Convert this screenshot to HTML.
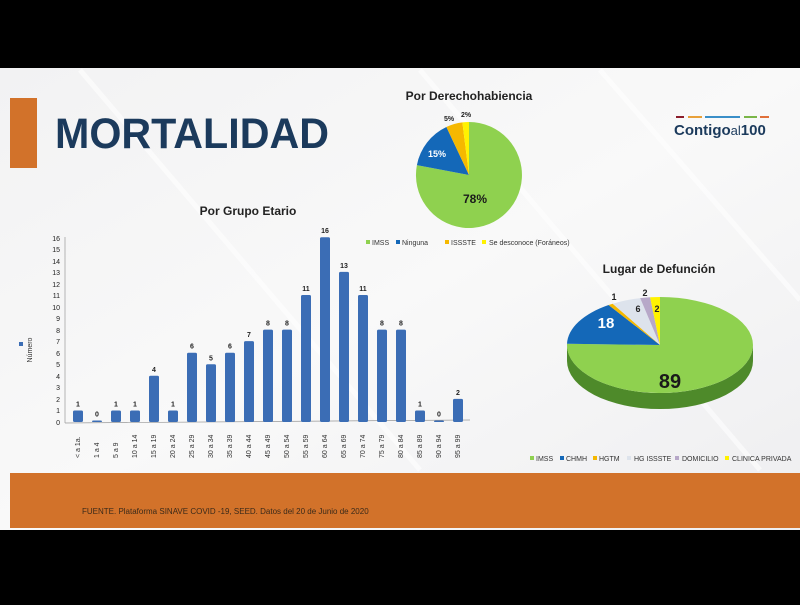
<!DOCTYPE html>
<html><head><meta charset="utf-8"><style>
body{margin:0;width:800px;height:600px;background:#000;overflow:hidden;font-family:"Liberation Sans",sans-serif}
</style></head><body>
<svg width="800" height="600" xmlns="http://www.w3.org/2000/svg" font-family="Liberation Sans, sans-serif">
<defs><linearGradient id="bg" x1="0" y1="0" x2="1" y2="1">
<stop offset="0" stop-color="#f2f2f3"/><stop offset="0.5" stop-color="#f9f9f9"/><stop offset="1" stop-color="#eeeef0"/></linearGradient></defs>
<rect x="0" y="68" width="800" height="462" fill="url(#bg)"/>
<g stroke="#ffffff" stroke-width="5" opacity="0.6">
<line x1="80" y1="70" x2="420" y2="470"/><line x1="420" y1="70" x2="760" y2="470"/><line x1="600" y1="70" x2="800" y2="300"/>
</g>
<rect x="10" y="98" width="27" height="70" fill="#d2722a"/>
<text x="55" y="148" font-size="43" font-weight="bold" fill="#1b3a5c" textLength="274" lengthAdjust="spacingAndGlyphs">MORTALIDAD</text>
<g stroke-width="2"><line x1="676" y1="117" x2="684" y2="117" stroke="#8b1d2c"/><line x1="688" y1="117" x2="702" y2="117" stroke="#e8a13a"/><line x1="705" y1="117" x2="740" y2="117" stroke="#3a8fc8"/><line x1="744" y1="117" x2="757" y2="117" stroke="#7ab648"/><line x1="760" y1="117" x2="769" y2="117" stroke="#e0703a"/></g>
<text x="674" y="135" font-size="15" font-weight="bold" fill="#1b3a5c">Contigo<tspan font-weight="normal" font-size="13">al</tspan>100</text>
<text x="248" y="215" font-size="12" font-weight="bold" fill="#222" text-anchor="middle">Por Grupo Etario</text>
<g font-size="7" fill="#222" text-anchor="end">
<text x="60" y="425">0</text><text x="60" y="413">1</text><text x="60" y="402">2</text><text x="60" y="390">3</text><text x="60" y="379">4</text><text x="60" y="367">5</text><text x="60" y="356">6</text><text x="60" y="344">7</text><text x="60" y="333">8</text><text x="60" y="321">9</text><text x="60" y="310">10</text><text x="60" y="298">11</text><text x="60" y="287">12</text><text x="60" y="275">13</text><text x="60" y="264">14</text><text x="60" y="252">15</text><text x="60" y="241">16</text>
</g>
<line x1="65" y1="237" x2="65" y2="423" stroke="#999" stroke-width="0.7"/>
<line x1="65" y1="423" x2="470" y2="420" stroke="#999" stroke-width="0.7"/>
<rect x="19" y="342" width="4" height="4" fill="#3b6db5"/>
<text transform="translate(32,350) rotate(-90)" font-size="7" fill="#333" text-anchor="middle">Número</text>
<g id="bars" fill="#3b6db5"></g>
<g font-size="7" font-weight="bold" fill="#222" text-anchor="middle" id="bl"></g>
<g font-size="7" fill="#333" id="xl"></g>
<script>
var v=[1,0,1,1,4,1,6,5,6,7,8,8,11,16,13,11,8,8,1,0,2];
var n=["< a 1a.","1 a 4","5 a 9","10 a 14","15 a 19","20 a 24","25 a 29","30 a 34","35 a 39","40 a 44","45 a 49","50 a 54","55 a 59","60 a 64","65 a 69","70 a 74","75 a 79","80 a 84","85 a 89","90 a 94","95 a 99"];
var ns="http://www.w3.org/2000/svg",b=document.getElementById("bars"),bl=document.getElementById("bl"),xl=document.getElementById("xl");
for(var i=0;i<21;i++){var x=78+19*i,h=Math.max(v[i]*11.55,1.5),y=422-h;
var r=document.createElementNS(ns,"rect");r.setAttribute("x",x-5);r.setAttribute("y",y);r.setAttribute("width",10);r.setAttribute("height",h);r.setAttribute("rx",1.5);b.appendChild(r);
var t=document.createElementNS(ns,"text");t.setAttribute("x",x);t.setAttribute("y",y-4);t.textContent=v[i];bl.appendChild(t);
var u=document.createElementNS(ns,"text");u.setAttribute("transform","translate("+(x+2)+",458) rotate(-90)");u.textContent=n[i];xl.appendChild(u);}
</script>
<text x="469" y="100" font-size="12" font-weight="bold" fill="#222" text-anchor="middle">Por Derechohabiencia</text>
<path d="M469,175 L469,122 A53,53 0 1 1 416.9,165.1 Z" fill="#8fd14f"/>
<path d="M469,175 L416.9,165.1 A53,53 0 0 1 446.4,127 Z" fill="#1468b8"/>
<path d="M469,175 L446.4,127 A53,53 0 0 1 462.4,122.4 Z" fill="#f5b800"/>
<path d="M469,175 L462.4,122.4 A53,53 0 0 1 469,122 Z" fill="#fff200"/>
<text x="475" y="203" font-size="12" font-weight="bold" fill="#1a1a1a" text-anchor="middle">78%</text>
<text x="437" y="157" font-size="9" font-weight="bold" fill="#fff" text-anchor="middle">15%</text>
<text x="449" y="121" font-size="7" font-weight="bold" fill="#222" text-anchor="middle">5%</text>
<text x="466" y="117" font-size="7" font-weight="bold" fill="#222" text-anchor="middle">2%</text>
<g font-size="7" fill="#333">
<rect x="366" y="240" width="4" height="4" fill="#8fd14f"/><text x="372" y="245">IMSS</text>
<rect x="396" y="240" width="4" height="4" fill="#1468b8"/><text x="402" y="245">Ninguna</text>
<rect x="445" y="240" width="4" height="4" fill="#f5b800"/><text x="451" y="245">ISSSTE</text>
<rect x="482" y="240" width="4" height="4" fill="#fff200"/><text x="489" y="245">Se desconoce (Foráneos)</text>
</g>
<text x="659" y="273" font-size="12" font-weight="bold" fill="#222" text-anchor="middle">Lugar de Defunción</text>
<path d="M567,345 A93,48 0 0 0 753,345 L753,361 A93,48 0 0 1 567,361 Z" fill="#4e8a2a"/>
<path d="M660,345 L660,297 A93,48 0 1 1 567,343.8 Z" fill="#8fd14f"/>
<path d="M660,345 L567,343.8 A93,48 0 0 1 608.6,305 Z" fill="#1468b8"/>
<path d="M660,345 L608.6,305 A93,48 0 0 1 612.7,303.7 Z" fill="#f5b800"/>
<path d="M660,345 L612.7,303.7 A93,48 0 0 1 640.2,298.1 Z" fill="#dde3ec"/>
<path d="M660,345 L640.2,298.1 A93,48 0 0 1 650.1,297.3 Z" fill="#b7a8c8"/>
<path d="M660,345 L650.1,297.3 A93,48 0 0 1 660,297 Z" fill="#fff200"/>
<text x="670" y="388" font-size="20" font-weight="bold" fill="#1a1a1a" text-anchor="middle">89</text>
<text x="606" y="328" font-size="15" font-weight="bold" fill="#fff" text-anchor="middle">18</text>
<g font-size="9" font-weight="bold" fill="#222" text-anchor="middle">
<text x="614" y="300">1</text><text x="638" y="312">6</text><text x="645" y="296">2</text><text x="657" y="312">2</text></g>
<g font-size="7" fill="#333">
<rect x="530" y="456" width="4" height="4" fill="#8fd14f"/><text x="536" y="461">IMSS</text>
<rect x="560" y="456" width="4" height="4" fill="#1468b8"/><text x="566" y="461">CHMH</text>
<rect x="593" y="456" width="4" height="4" fill="#f5b800"/><text x="599" y="461">HGTM</text>
<rect x="627" y="456" width="4" height="4" fill="#dde3ec"/><text x="634" y="461">HG ISSSTE</text>
<rect x="675" y="456" width="4" height="4" fill="#b7a8c8"/><text x="682" y="461">DOMICILIO</text>
<rect x="725" y="456" width="4" height="4" fill="#fff200"/><text x="732" y="461">CLINICA PRIVADA</text>
</g>
<rect x="10" y="473" width="790" height="55" fill="#d2722a"/>
<text x="82" y="514" font-size="8" fill="#3a2a1a">FUENTE. Plataforma SINAVE COVID -19, SEED. Datos del 20 de Junio de 2020</text>
</svg>
</body></html>
